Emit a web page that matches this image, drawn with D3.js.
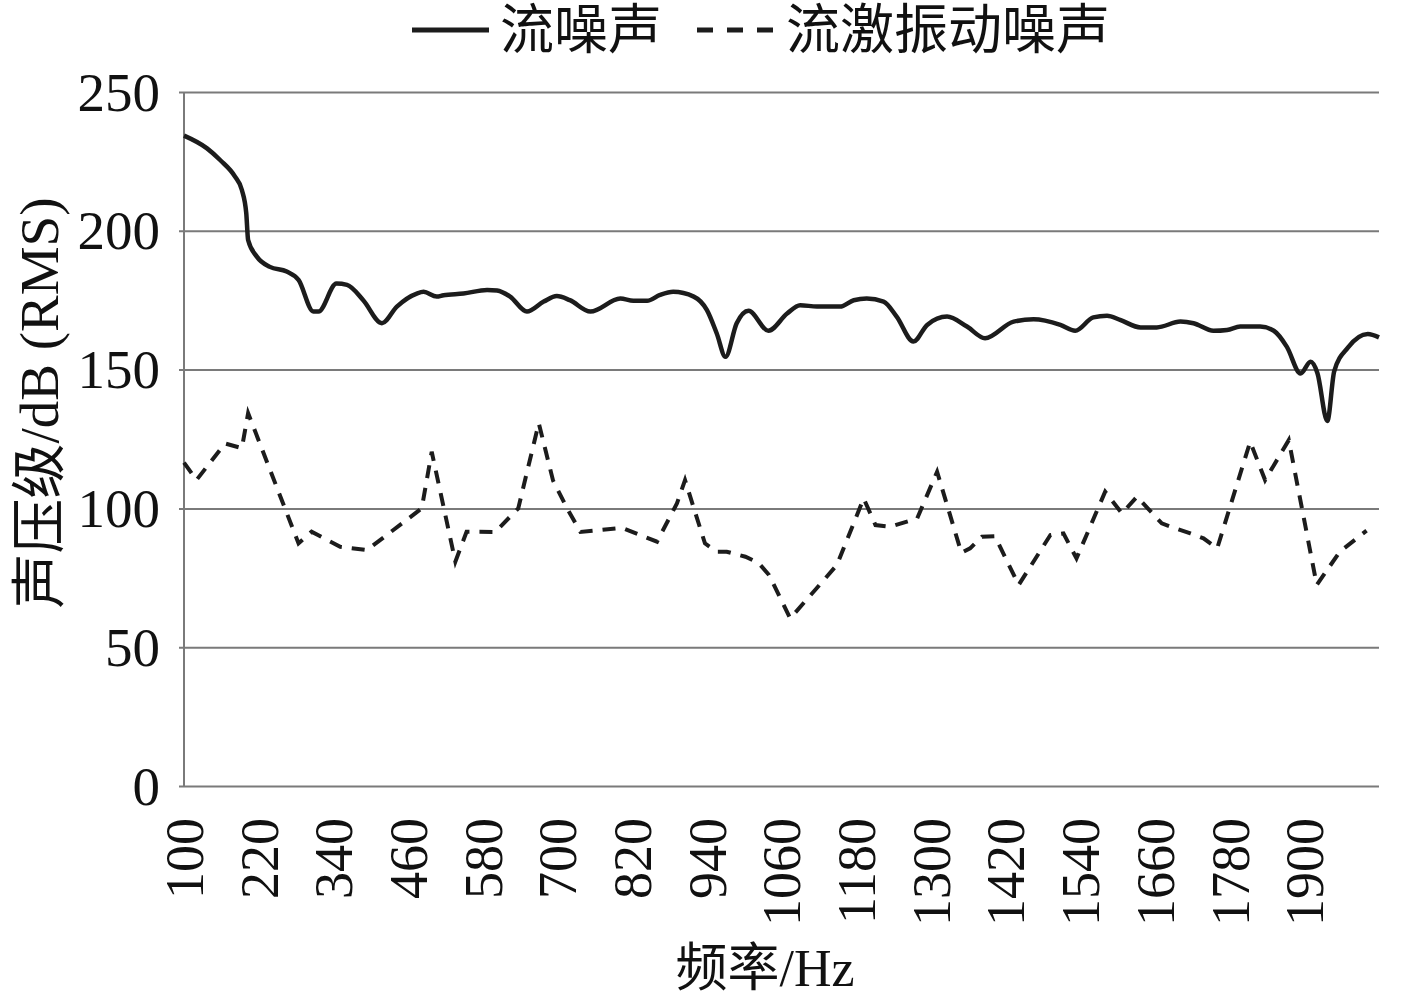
<!DOCTYPE html>
<html>
<head>
<meta charset="utf-8">
<script src="https://cdn.jsdelivr.net/npm/d3@7"></script>
<style>
  html, body { margin: 0; padding: 0; background: #fff; }
  svg { display: block; }
</style>
</head>
<body>
<svg id="chart" width="1417" height="999"></svg>
<script>
// ---------- data ----------
const seriesNames = ["流噪声", "流激振动噪声"];

// 流噪声 (solid, smoothed)
const noiseFreq = [100,137,158,182,193,200,203,217,238,265,
  284,308,316,345,362,388,418,442,474,485,
  506,517,549,587,603,624,651,678,699,720,
  753,801,822,844,865,886,919,940,956,970,
  988,1007,1039,1069,1090,1117,1154,1176,1197,1224,
  1245,1272,1294,1326,1358,1387,1433,1465,1508,1532,
  1561,1583,1604,1637,1663,1701,1722,1754,1776,1797,
  1829,1851,1872,1894,1910,1921,1937,1948,1970,2002,
  2020];
const noiseLevel = [234.3,229.7,225.5,219.5,214.7,206.4,196.7,190.7,187,185.3,
  182.3,170.9,170.9,181,180.5,175,166.7,172.7,177.4,178,
  176.3,176.8,177.4,178.7,178.5,176.3,170.9,174.5,176.5,175,
  170.9,175.6,174.8,174.8,176.9,178,176.3,171.5,163,154.6,
  166.7,171.2,164,170.2,173.2,172.7,172.7,175,175.6,174.5,
  169.1,160.1,166.1,169.1,165.5,161.3,167.3,168.1,166.1,164,
  168.8,169.4,167.9,165.2,165.2,167.3,166.7,164,164.3,165.5,
  165.5,164,158.2,148.6,152.8,148.8,131.5,149.4,157.9,162.8,
  161.6];

// 流激振动噪声 (dashed, straight segments)
const vibFreq = [100,120,166,193,203,284,305,351,394,482,
  498,536,554,600,637,670,693,717,737,781,
  804,860,892,905,937,956,972,1002,1023,1040,
  1074,1114,1149,1192,1211,1235,1278,1310,1349,1363,
  1382,1403,1441,1492,1513,1534,1580,1607,1631,1671,
  1693,1717,1738,1760,1813,1837,1875,1920,1957,2000];
const vibLevel = [116.5,110.2,123.4,121.7,134.3,87.4,91.6,86.2,85,100,
  120.4,80.8,91.6,91.5,100,130.7,110,99.4,91.5,92.5,
  93,88,101.8,110.2,87.4,84.4,84.4,82.6,80.4,76,
  60.4,70.6,79.6,103.6,94,93.4,96.4,113.2,84,85.6,
  89.8,90,72.4,90.4,91,82,106,98.2,104.2,94.6,
  92.8,91,89.2,85.6,124,110.2,124.6,72.4,84.4,92];

const xTickValues = [100,220,340,460,580,700,820,940,1060,1180,1300,1420,1540,1660,1780,1900];
const yTickValues = [0,50,100,150,200,250];
const xTitle = "频率/Hz";
const yTitle = "声压级/dB (RMS)";

// ---------- layout ----------
const FONT = "'Liberation Serif', 'Noto Sans CJK SC', serif";
const plotL = 184, plotT = 92, plotR = 1379, plotB = 786;
const svg = d3.select("#chart");

const x = d3.scaleLinear().domain([100, 2020]).range([plotL, plotR]);
const y = d3.scaleLinear().domain([0, 250]).range([plotB, plotT]);

// gridlines + y axis
const yAxis = svg.append("g")
  .attr("transform", `translate(${plotL},0)`)
  .call(d3.axisLeft(y).tickValues(yTickValues).tickSize(-(plotR - plotL)).tickSizeOuter(0).tickPadding(24));
yAxis.select(".domain").remove();
yAxis.selectAll(".tick line")
  .attr("x1", -5)
  .attr("stroke", "#7a7a7a").attr("stroke-width", 2);
yAxis.selectAll(".tick text")
  .attr("font-family", FONT).attr("font-size", 55).attr("fill", "#111")
  .attr("dy", "0.33em");

// left axis line
svg.append("line")
  .attr("x1", plotL).attr("x2", plotL).attr("y1", plotT).attr("y2", plotB)
  .attr("stroke", "#7a7a7a").attr("stroke-width", 2);

// x axis labels
const xAxis = svg.append("g")
  .attr("transform", `translate(0,${plotB})`)
  .call(d3.axisBottom(x).tickValues(xTickValues).tickSize(0).tickFormat(d3.format("d")));
xAxis.select(".domain").remove();
xAxis.selectAll(".tick text")
  .attr("font-family", FONT).attr("font-size", 54).attr("fill", "#111")
  .attr("transform", "rotate(-90)")
  .attr("text-anchor", "end")
  .attr("x", -32).attr("y", 0).attr("dy", "0.34em");

// lines
const noiseData = noiseFreq.map((f, i) => [f, noiseLevel[i]]);
const vibData = vibFreq.map((f, i) => [f, vibLevel[i]]);

svg.append("path")
  .datum(noiseData)
  .attr("fill", "none").attr("stroke", "#1c1c1c").attr("stroke-width", 4.5)
  .attr("stroke-linejoin", "round")
  .attr("d", d3.line().x(d => x(d[0])).y(d => y(d[1])).curve(d3.curveMonotoneX));

svg.append("path")
  .datum(vibData)
  .attr("fill", "none").attr("stroke", "#1c1c1c").attr("stroke-width", 4)
  .attr("stroke-dasharray", "13,10")
  .attr("d", d3.line().x(d => x(d[0])).y(d => y(d[1])).curve(d3.curveLinear));

// axis titles
svg.append("text")
  .attr("x", 765).attr("y", 986)
  .attr("text-anchor", "middle")
  .attr("font-family", FONT).attr("font-size", 52).attr("fill", "#111")
  .text(xTitle);

svg.append("text")
  .attr("transform", `translate(58,403) rotate(-90)`)
  .attr("text-anchor", "middle")
  .attr("font-family", FONT).attr("font-size", 55).attr("fill", "#111")
  .text(yTitle);

// legend
const lg = svg.append("g");
lg.append("line").attr("x1", 412).attr("x2", 489).attr("y1", 30).attr("y2", 30)
  .attr("stroke", "#1c1c1c").attr("stroke-width", 5);
lg.append("text").attr("x", 500).attr("y", 30).attr("dy", "0.36em")
  .attr("font-family", FONT).attr("font-size", 54).attr("fill", "#111")
  .text(seriesNames[0]);
lg.append("line").attr("x1", 697).attr("x2", 775).attr("y1", 30).attr("y2", 30)
  .attr("stroke", "#1c1c1c").attr("stroke-width", 5).attr("stroke-dasharray", "16,14");
lg.append("text").attr("x", 786).attr("y", 30).attr("dy", "0.36em")
  .attr("font-family", FONT).attr("font-size", 54).attr("fill", "#111")
  .text(seriesNames[1]);
</script>
</body>
</html>
